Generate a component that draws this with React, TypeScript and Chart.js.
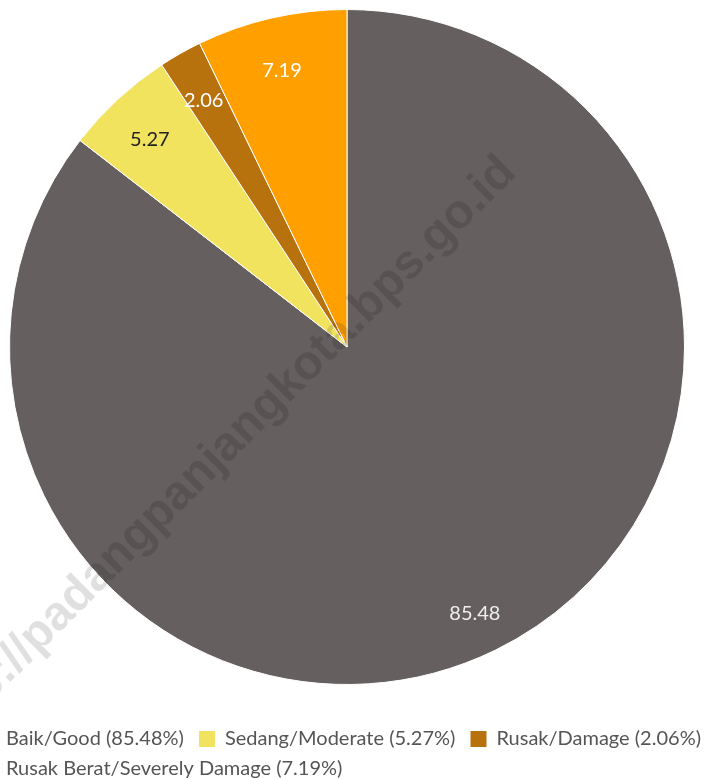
import React, { useEffect, useRef } from "react";
import { Chart, registerables } from "chart.js";

Chart.register(...registerables);

const categories = ["Baik/Good", "Sedang/Moderate", "Rusak/Damage", "Rusak Berat/Severely Damage"];
const values = [85.48, 5.27, 2.06, 7.19];
const sliceColors = ["#655f5f", "#f2e35e", "#b8720d", "#ffa000"];
const labelColors = ["#eeeeee", "#222222", "#ffffff", "#ffffff"];
const watermarkText = "http://padangpanjangkota.bps.go.id";

const CANVAS_LEFT = -30;
const CANVAS_W = 754;
const CANVAS_H = 789;

const sliceLabels = {
  id: "sliceLabels",
  afterDatasetsDraw(chart: any) {
    const meta = chart.getDatasetMeta(0);
    const ctx = chart.ctx;
    ctx.save();
    ctx.font = "20px Lato";
    ctx.textAlign = "center";
    ctx.textBaseline = "middle";
    meta.data.forEach((arc: any, i: number) => {
      const p = arc.getProps(["x", "y", "startAngle", "endAngle", "outerRadius"], true);
      const mid = (p.startAngle + p.endAngle) / 2;
      const r = p.outerRadius * 0.86;
      ctx.fillStyle = labelColors[i];
      ctx.fillText(values[i].toFixed(2), p.x + Math.cos(mid) * r, p.y + Math.sin(mid) * r + 6);
    });
    ctx.restore();
  },
};

const watermark = {
  id: "watermark",
  afterDraw(chart: any) {
    const ctx = chart.ctx;
    const area = chart.chartArea;
    const cx = (area.left + area.right) / 2;
    const cy = (area.top + area.bottom) / 2;
    ctx.save();
    ctx.translate(cx + 171, cy - 173);
    ctx.rotate(-Math.PI / 4);
    ctx.font = "bold 48px 'Liberation Sans'";
    ctx.textAlign = "right";
    ctx.textBaseline = "alphabetic";
    ctx.fillStyle = "rgba(0,0,0,0.12)";
    ctx.fillText(watermarkText, 0, 0);
    ctx.restore();
  },
};

export default function App() {
  const ref = useRef<HTMLCanvasElement | null>(null);
  useEffect(() => {
    if (!ref.current) return;
    const chart = new Chart(ref.current, {
      type: "pie",
      data: {
        labels: categories,
        datasets: [
          {
            data: values,
            backgroundColor: sliceColors,
            borderColor: "#ffffff",
            borderWidth: 1,
            hoverOffset: 0,
          },
        ],
      },
      options: {
        responsive: false,
        animation: false,
        devicePixelRatio: 1,
        layout: { padding: { top: 9, left: 0, right: 0, bottom: 0 } },
        plugins: {
          tooltip: { enabled: false },
          legend: {
            position: "bottom",
            align: "start",
            title: { display: true, text: "", padding: { top: 22, bottom: 0 }, font: { size: 10 } },
            labels: {
              boxWidth: 16,
              boxHeight: 16,
              padding: 10,
              color: "#555555",
              font: { family: "Lato", size: 20 },
              generateLabels: () =>
                categories.map((c, i) => ({
                  text: `${c} (${values[i].toFixed(2)}%) `,
                  fillStyle: sliceColors[i],
                  strokeStyle: sliceColors[i],
                  lineWidth: 0,
                  hidden: false,
                  index: i,
                  fontColor: "#555555",
                })),
            },
          },
        },
      },
      plugins: [sliceLabels, watermark],
    });
    return () => chart.destroy();
  }, []);
  return (
    <div style={{ position: "fixed", left: 0, top: 0, width: 719, height: 779, overflow: "hidden", background: "#fff" }}>
      <canvas
        ref={ref}
        width={CANVAS_W}
        height={CANVAS_H}
        style={{ position: "absolute", left: CANVAS_LEFT, top: 0, width: CANVAS_W, height: CANVAS_H }}
      />
    </div>
  );
}
